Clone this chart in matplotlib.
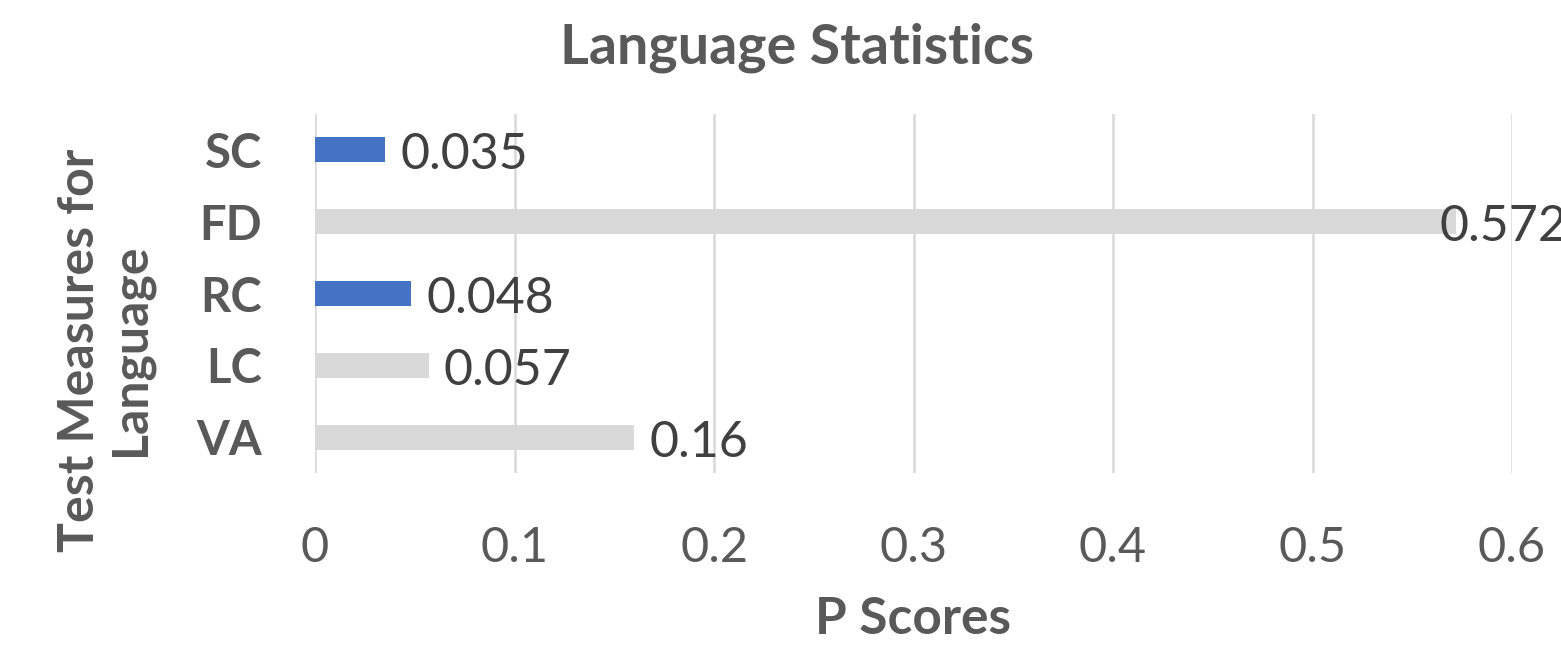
import matplotlib
matplotlib.use("Agg")
import matplotlib.pyplot as plt

plt.rcParams['font.family'] = ['Lato', 'DejaVu Sans']

# data (top to bottom as shown)
categories = ['SC', 'FD', 'RC', 'LC', 'VA']
p_scores = [0.035, 0.572, 0.048, 0.057, 0.16]
bar_colors = ['#4472C4', '#D9D9D9', '#4472C4', '#D9D9D9', '#D9D9D9']
label_dx = [11, -12, 11, 11, 11]   # label offsets in points
x_ticks = [0, 0.1, 0.2, 0.3, 0.4, 0.5, 0.6]
x_tick_labels = ['0', '0.1', '0.2', '0.3', '0.4', '0.5', '0.6']

fig = plt.figure(figsize=(15.61, 6.52), dpi=100)
ax = fig.add_axes([315/1561, 1 - 473/652, (1512 - 315)/1561, 359/652])

pos = list(range(len(categories)))
ax.barh(pos, p_scores, height=0.35, color=bar_colors, zorder=3)
ax.set_ylim(len(categories) - 0.5, -0.5)
ax.set_xlim(0, 0.6)

for i, v in enumerate(p_scores):
    ax.annotate('{:g}'.format(v), (v, i), xytext=(label_dx[i], -4), textcoords='offset points',
                ha='left', va='center', fontsize=36, color='#404040',
                annotation_clip=False, zorder=4)

ax.set_xticks(x_ticks)
ax.set_xticklabels(x_tick_labels)
ax.set_yticks(pos)
ax.set_yticklabels(categories, fontweight='bold')
ax.tick_params(axis='x', length=0, pad=38, labelsize=35, labelcolor='#595959')
ax.tick_params(axis='y', length=0, pad=38, labelsize=34, labelcolor='#595959')

ax.grid(axis='x', color='#D9D9D9', linewidth=1.8, zorder=0)
for s in ax.spines.values():
    s.set_visible(False)

fig.text(797/1561, 1 - 48/652, 'Language Statistics', ha='center', va='center',
         fontsize=40, fontweight='bold', color='#595959')
fig.text(913/1561, 1 - 620/652, 'P Scores', ha='center', va='center',
         fontsize=37, fontweight='bold', color='#595959')
fig.text(105/1561, 1 - 350/652, 'Test Measures for\nLanguage', ha='center', va='center',
         rotation=90, fontsize=36, fontweight='bold', color='#595959', linespacing=1.15)

fig.savefig('out.png', dpi=100)
